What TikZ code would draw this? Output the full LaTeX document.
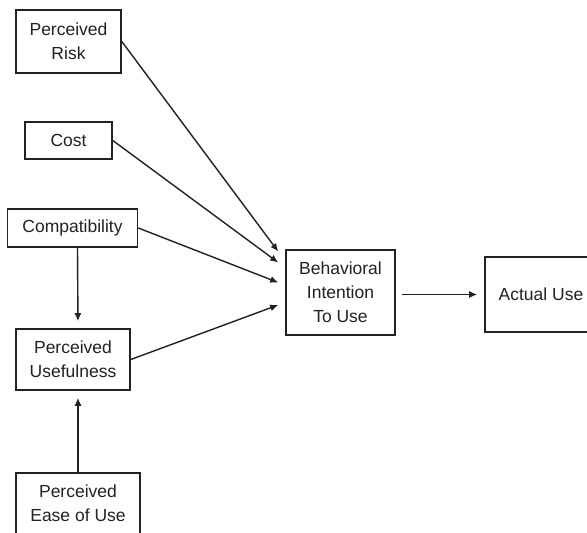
\documentclass[tikz,border=0pt]{standalone}
\usepackage{fontspec}
\setmainfont{Liberation Sans}
\usepackage{tikz}
\usetikzlibrary{arrows.meta,positioning,calc}
\definecolor{ink}{HTML}{222222}
\tikzset{
  >={Latex[length=8pt,width=7pt]},
  box/.style={draw=ink,line width=1.6pt,inner sep=2pt,align=center,text=ink,
    font=\fontsize{17.5}{24}\selectfont,fill=white},
  arr/.style={->,draw=ink,line width=1.4pt},
}

\begin{document}
\begin{tikzpicture}[x=1pt,y=-1pt]
\clip (0,0) rectangle (587,533);
\fill[white] (0,0) rectangle (587,533);
% left column
\node[box,minimum width=105pt,minimum height=63pt] (risk) at (68.5,41.5) {Perceived\\Risk};
\node[box,minimum width=87pt,minimum height=37pt] (cost) at (68.5,140.5) {Cost};
\node[box,minimum width=130pt,minimum height=38pt] (compat) at (72.5,228) {Compatibility};
\node[box,minimum width=114pt,minimum height=61pt] (useful) at (73,359.5) {Perceived\\Usefulness};
\node[box,minimum width=124pt,minimum height=61pt] (ease) at (78,503.5) {Perceived\\Ease of Use};
% intention and use
\node[box,minimum width=109pt,minimum height=85pt] (bi) at (340.5,292.5) {Behavioral\\Intention\\To Use};
\node[box,minimum width=112pt,minimum height=75pt] (au) at (541,294.5) {Actual Use};
\draw[arr] (risk.east) -- ($(bi.west)+(-7,-41)$);
\draw[arr] (cost.east) -- ($(bi.west)+(-7,-30)$);
\draw[arr] (compat.east) -- ($(bi.west)+(-7,-10)$);
\draw[arr] (useful.east) -- ($(bi.west)+(-7,12.5)$);
\draw[arr,shorten >=7pt] ($(compat.south)+(5,0)$) -- ($(useful.north)+(5,0)$);
\draw[arr,shorten >=7pt] (ease.north) -- (ease.north |- useful.south);
\draw[arr,shorten <=6pt,shorten >=7pt] (bi.east |- au.west) -- (au.west);
\end{tikzpicture}
\end{document}
